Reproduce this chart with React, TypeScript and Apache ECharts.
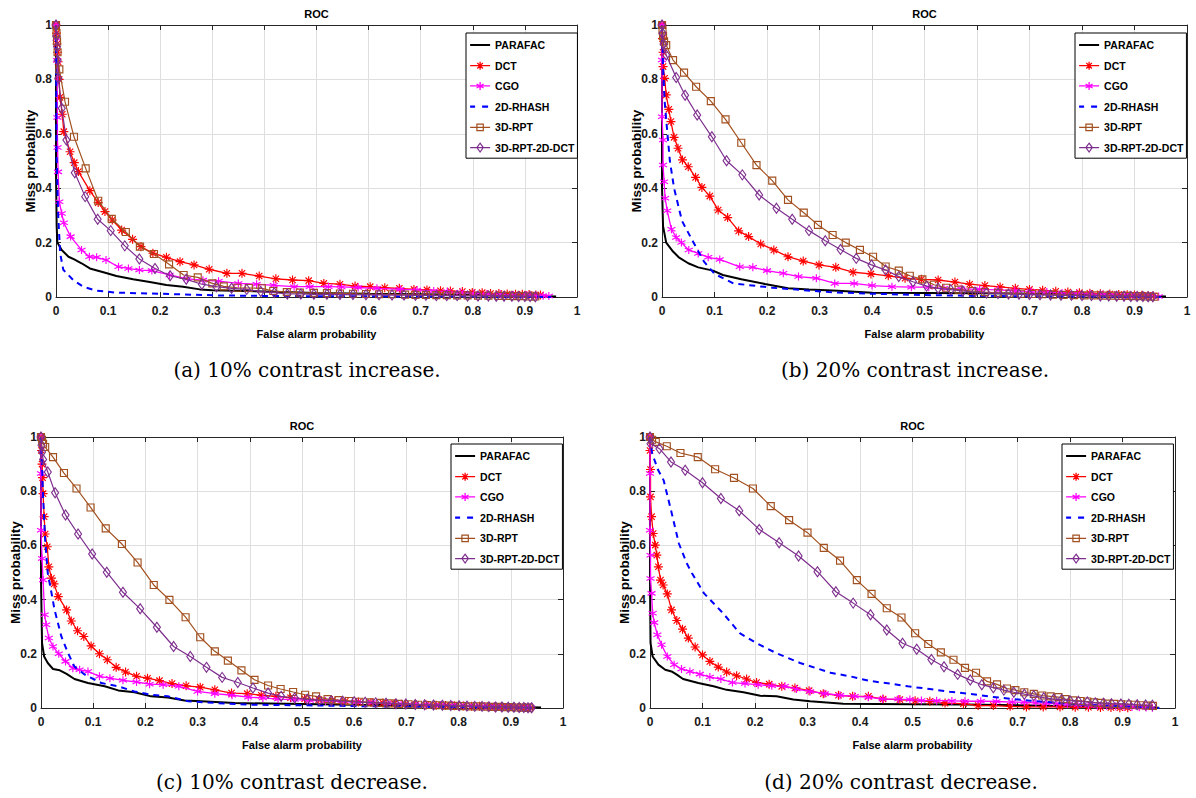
import React, { useEffect, useRef } from "react";
import * as echarts from "echarts";

// ---------- Data (x = false alarm probability, y = miss probability) ----------
const SERIES_NAMES = ["PARAFAC", "DCT", "CGO", "2D-RHASH", "3D-RPT", "3D-RPT-2D-DCT"];
const CAPTIONS = [
  "(a) 10% contrast increase.",
  "(b) 20% contrast increase.",
  "(c) 10% contrast decrease.",
  "(d) 20% contrast decrease.",
];
const PANEL_TITLE = "ROC";
const X_NAME = "False alarm probability";
const Y_NAME = "Miss probability";

// Panel (a) 10% contrast increase
const A_PARAFAC = [[0,1],[0,0.455],[0.0013,0.26],[0.0026,0.2],[0.011,0.173],[0.024,0.148],[0.035,0.138],[0.049,0.124],[0.065,0.105],[0.091,0.091],[0.116,0.077],[0.148,0.065],[0.18,0.055],[0.212,0.044],[0.244,0.038],[0.276,0.028],[0.3,0.025],[0.4,0.02],[0.5,0.015],[0.6,0.012],[0.7,0.01],[0.8,0.008],[0.9,0.005],[0.96,0.002]];
const A_DCT = [[0,1],[0.001,0.97],[0.002,0.93],[0.003,0.9],[0.004,0.865],[0.006,0.8],[0.0077,0.734],[0.012,0.672],[0.015,0.608],[0.027,0.534],[0.035,0.494],[0.043,0.461],[0.065,0.391],[0.081,0.347],[0.094,0.314],[0.108,0.283],[0.126,0.246],[0.147,0.212],[0.163,0.185],[0.186,0.161],[0.212,0.146],[0.238,0.13],[0.265,0.118],[0.294,0.102],[0.328,0.087],[0.357,0.087],[0.39,0.077],[0.422,0.067],[0.454,0.0625],[0.485,0.06],[0.514,0.05],[0.545,0.047],[0.574,0.04],[0.603,0.038],[0.631,0.034],[0.659,0.032],[0.687,0.028],[0.712,0.026],[0.738,0.023],[0.757,0.022],[0.78,0.02],[0.799,0.017],[0.818,0.016],[0.834,0.013],[0.85,0.013],[0.866,0.011],[0.882,0.01],[0.895,0.01],[0.908,0.009],[0.921,0.007],[0.93,0.007]];
const A_CGO = [[0,1],[0.001,0.95],[0.002,0.87],[0.0026,0.66],[0.003,0.55],[0.004,0.46],[0.0064,0.35],[0.011,0.307],[0.015,0.273],[0.028,0.222],[0.049,0.173],[0.064,0.148],[0.078,0.146],[0.096,0.136],[0.12,0.111],[0.139,0.105],[0.16,0.099],[0.184,0.097],[0.218,0.081],[0.252,0.067],[0.282,0.062],[0.312,0.058],[0.35,0.05],[0.385,0.047],[0.418,0.043],[0.457,0.038],[0.487,0.038],[0.523,0.038],[0.548,0.037],[0.58,0.035],[0.616,0.032],[0.661,0.028],[0.693,0.026],[0.725,0.022],[0.751,0.02],[0.776,0.017],[0.802,0.013],[0.827,0.011],[0.853,0.01],[0.878,0.007],[0.904,0.006],[0.923,0.005],[0.935,0.005],[0.946,0.004]];
const A_RHASH = [[0,1],[0.001,0.53],[0.004,0.31],[0.008,0.16],[0.014,0.1],[0.033,0.0625],[0.052,0.038],[0.078,0.023],[0.116,0.016],[0.18,0.013],[0.308,0.006],[0.4,0.004],[0.5,0.003],[0.7,0.002],[0.9,0.001],[0.95,0]];
const A_RPT = [[0,1],[0.001,0.97],[0.002,0.94],[0.003,0.9],[0.0064,0.837],[0.0173,0.718],[0.0345,0.589],[0.057,0.473],[0.081,0.354],[0.107,0.287],[0.134,0.239],[0.161,0.185],[0.188,0.158],[0.217,0.12],[0.245,0.081],[0.272,0.072],[0.3,0.05],[0.322,0.039],[0.348,0.034],[0.37,0.033],[0.395,0.032],[0.417,0.022],[0.443,0.018],[0.468,0.016],[0.495,0.015],[0.52,0.014],[0.545,0.013],[0.57,0.012],[0.595,0.011],[0.62,0.01],[0.645,0.01],[0.67,0.009],[0.69,0.008],[0.71,0.008],[0.73,0.007],[0.75,0.007],[0.77,0.006],[0.79,0.006],[0.81,0.005],[0.83,0.005],[0.85,0.004],[0.865,0.004],[0.88,0.003],[0.895,0.003],[0.91,0.002],[0.92,0.002]];
const A_RPTDCT = [[0,1],[0.001,0.96],[0.002,0.92],[0.003,0.87],[0.0045,0.804],[0.011,0.694],[0.02,0.577],[0.036,0.457],[0.056,0.369],[0.08,0.286],[0.105,0.244],[0.132,0.188],[0.16,0.14],[0.19,0.105],[0.219,0.078],[0.25,0.065],[0.28,0.047],[0.308,0.038],[0.337,0.032],[0.366,0.028],[0.393,0.02],[0.419,0.016],[0.444,0.011],[0.47,0.011],[0.495,0.01],[0.52,0.01],[0.545,0.009],[0.57,0.009],[0.595,0.008],[0.62,0.008],[0.645,0.007],[0.668,0.007],[0.69,0.006],[0.71,0.006],[0.73,0.005],[0.75,0.005],[0.77,0.005],[0.79,0.004],[0.81,0.004],[0.83,0.004],[0.845,0.003],[0.86,0.003],[0.875,0.003],[0.888,0.002],[0.9,0.002],[0.91,0.002],[0.92,0.001]];

// Panel (b) 20% contrast increase
const B_PARAFAC = [[0,1],[0,0.405],[0.002,0.26],[0.008,0.2],[0.021,0.167],[0.032,0.146],[0.05,0.124],[0.069,0.109],[0.097,0.097],[0.116,0.081],[0.151,0.065],[0.196,0.048],[0.24,0.032],[0.28,0.028],[0.335,0.023],[0.4,0.016],[0.5,0.015],[0.6,0.014],[0.7,0.012],[0.8,0.01],[0.9,0.006],[0.96,0.002]];
const B_DCT = [[0,1],[0.001,0.95],[0.002,0.9],[0.002,0.847],[0.005,0.804],[0.008,0.743],[0.013,0.69],[0.017,0.645],[0.023,0.587],[0.0305,0.547],[0.039,0.504],[0.05,0.479],[0.064,0.44],[0.076,0.403],[0.091,0.371],[0.107,0.32],[0.125,0.292],[0.146,0.243],[0.165,0.222],[0.188,0.195],[0.213,0.173],[0.24,0.148],[0.269,0.132],[0.299,0.118],[0.331,0.109],[0.364,0.091],[0.398,0.085],[0.431,0.078],[0.463,0.069],[0.494,0.065],[0.526,0.0625],[0.558,0.055],[0.586,0.047],[0.615,0.042],[0.644,0.037],[0.673,0.032],[0.7,0.028],[0.725,0.025],[0.75,0.021],[0.773,0.018],[0.795,0.016],[0.815,0.014],[0.835,0.012],[0.853,0.011],[0.87,0.009],[0.886,0.008],[0.9,0.007],[0.914,0.006],[0.926,0.005],[0.936,0.004]];
const B_CGO = [[0,1],[0,0.871],[0,0.663],[0.002,0.577],[0.002,0.485],[0.004,0.424],[0.006,0.363],[0.01,0.317],[0.018,0.249],[0.027,0.219],[0.037,0.2],[0.051,0.173],[0.069,0.16],[0.088,0.146],[0.11,0.138],[0.148,0.111],[0.173,0.109],[0.2,0.097],[0.231,0.087],[0.26,0.075],[0.294,0.069],[0.329,0.05],[0.366,0.05],[0.4,0.042],[0.438,0.038],[0.475,0.036],[0.508,0.036],[0.537,0.032],[0.57,0.03],[0.605,0.028],[0.64,0.026],[0.672,0.023],[0.703,0.02],[0.733,0.018],[0.762,0.015],[0.79,0.013],[0.815,0.011],[0.84,0.009],[0.862,0.007],[0.882,0.006],[0.9,0.005],[0.917,0.004],[0.932,0.003],[0.946,0.002]];
const B_RHASH = [[0,1],[0.002,0.85],[0.005,0.72],[0.009,0.63],[0.015,0.5],[0.023,0.4],[0.038,0.28],[0.06,0.2],[0.08,0.13],[0.1,0.085],[0.136,0.05],[0.21,0.034],[0.318,0.018],[0.4,0.012],[0.5,0.007],[0.6,0.004],[0.75,0.002],[0.9,0.001],[0.95,0]];
const B_RPT = [[0,1],[0.001,0.98],[0.002,0.96],[0.004,0.94],[0.008,0.926],[0.021,0.871],[0.042,0.825],[0.065,0.773],[0.093,0.72],[0.121,0.653],[0.151,0.567],[0.18,0.485],[0.21,0.428],[0.24,0.357],[0.27,0.31],[0.297,0.265],[0.325,0.228],[0.35,0.2],[0.377,0.173],[0.402,0.148],[0.426,0.112],[0.451,0.097],[0.472,0.078],[0.496,0.065],[0.518,0.045],[0.541,0.034],[0.565,0.027],[0.59,0.022],[0.615,0.018],[0.64,0.015],[0.662,0.013],[0.684,0.012],[0.705,0.011],[0.725,0.01],[0.745,0.009],[0.765,0.008],[0.785,0.007],[0.805,0.006],[0.823,0.006],[0.84,0.005],[0.856,0.005],[0.871,0.004],[0.885,0.004],[0.898,0.003],[0.91,0.003],[0.921,0.002],[0.93,0.002],[0.938,0.001]];
const B_RPTDCT = [[0,1],[0.001,0.97],[0.003,0.93],[0.008,0.89],[0.027,0.807],[0.044,0.742],[0.067,0.669],[0.095,0.589],[0.123,0.501],[0.153,0.449],[0.185,0.375],[0.218,0.326],[0.248,0.286],[0.28,0.244],[0.311,0.207],[0.34,0.175],[0.37,0.142],[0.399,0.118],[0.426,0.099],[0.451,0.075],[0.478,0.056],[0.504,0.04],[0.526,0.032],[0.55,0.027],[0.573,0.022],[0.596,0.018],[0.618,0.015],[0.64,0.013],[0.66,0.011],[0.68,0.01],[0.7,0.009],[0.72,0.008],[0.74,0.007],[0.76,0.006],[0.78,0.006],[0.8,0.005],[0.818,0.005],[0.835,0.004],[0.851,0.004],[0.866,0.003],[0.88,0.003],[0.893,0.002],[0.905,0.002],[0.916,0.002],[0.926,0.001],[0.935,0.001]];

// Panel (c) 10% contrast decrease
const C_PARAFAC = [[0,1],[0,0.472],[0.002,0.239],[0.006,0.19],[0.013,0.166],[0.023,0.144],[0.036,0.139],[0.049,0.126],[0.064,0.107],[0.09,0.092],[0.122,0.08],[0.148,0.065],[0.179,0.058],[0.211,0.043],[0.243,0.039],[0.275,0.028],[0.307,0.025],[0.371,0.018],[0.5,0.015],[0.6,0.012],[0.7,0.01],[0.8,0.008],[0.9,0.005],[0.958,0.002]];
const C_DCT = [[0,1],[0.001,0.95],[0.002,0.9],[0.003,0.85],[0.004,0.791],[0.006,0.706],[0.008,0.642],[0.012,0.595],[0.015,0.521],[0.02,0.479],[0.025,0.458],[0.033,0.411],[0.049,0.362],[0.058,0.321],[0.07,0.285],[0.082,0.264],[0.096,0.229],[0.112,0.2],[0.127,0.178],[0.144,0.15],[0.162,0.133],[0.183,0.117],[0.204,0.11],[0.227,0.101],[0.251,0.09],[0.278,0.082],[0.305,0.077],[0.333,0.067],[0.365,0.055],[0.395,0.053],[0.422,0.047],[0.45,0.043],[0.478,0.038],[0.505,0.034],[0.532,0.031],[0.558,0.028],[0.583,0.025],[0.608,0.022],[0.632,0.02],[0.655,0.018],[0.677,0.016],[0.698,0.014],[0.718,0.013],[0.738,0.011],[0.757,0.01],[0.775,0.009],[0.792,0.008],[0.809,0.007],[0.825,0.006],[0.84,0.006],[0.855,0.005],[0.869,0.004],[0.882,0.004],[0.895,0.003],[0.907,0.003],[0.918,0.002],[0.928,0.002],[0.937,0.001]];
const C_CGO = [[0,1],[0,0.865],[0,0.656],[0.002,0.552],[0.004,0.472],[0.007,0.344],[0.01,0.307],[0.015,0.258],[0.023,0.227],[0.034,0.2],[0.047,0.172],[0.061,0.147],[0.074,0.141],[0.09,0.135],[0.112,0.117],[0.132,0.11],[0.157,0.102],[0.183,0.096],[0.208,0.088],[0.234,0.086],[0.264,0.08],[0.3,0.061],[0.333,0.053],[0.366,0.047],[0.397,0.04],[0.425,0.037],[0.454,0.033],[0.486,0.031],[0.515,0.028],[0.545,0.026],[0.575,0.024],[0.605,0.022],[0.635,0.02],[0.663,0.018],[0.69,0.016],[0.716,0.014],[0.741,0.012],[0.765,0.011],[0.788,0.01],[0.81,0.009],[0.83,0.008],[0.85,0.007],[0.868,0.006],[0.885,0.005],[0.9,0.004],[0.914,0.003],[0.927,0.003],[0.938,0.002]];
const C_RHASH = [[0,1],[0.004,0.78],[0.008,0.62],[0.013,0.497],[0.019,0.436],[0.026,0.362],[0.039,0.264],[0.052,0.202],[0.064,0.153],[0.084,0.123],[0.116,0.092],[0.148,0.08],[0.179,0.061],[0.211,0.049],[0.243,0.043],[0.282,0.025],[0.339,0.018],[0.403,0.012],[0.5,0.01],[0.6,0.007],[0.75,0.004],[0.9,0.002],[0.95,0]];
const C_RPT = [[0,1],[0.002,0.99],[0.004,0.975],[0.008,0.963],[0.023,0.926],[0.044,0.867],[0.068,0.81],[0.095,0.74],[0.124,0.663],[0.155,0.605],[0.185,0.537],[0.216,0.454],[0.246,0.399],[0.277,0.335],[0.305,0.261],[0.333,0.209],[0.358,0.175],[0.384,0.139],[0.409,0.104],[0.435,0.083],[0.459,0.07],[0.483,0.059],[0.506,0.049],[0.527,0.043],[0.549,0.033],[0.57,0.029],[0.59,0.026],[0.61,0.023],[0.63,0.021],[0.65,0.019],[0.668,0.017],[0.686,0.015],[0.704,0.014],[0.722,0.012],[0.74,0.011],[0.757,0.01],[0.774,0.009],[0.79,0.008],[0.806,0.007],[0.822,0.006],[0.837,0.006],[0.851,0.005],[0.865,0.004],[0.878,0.004],[0.89,0.003],[0.901,0.003],[0.911,0.002],[0.92,0.002],[0.928,0.001],[0.935,0.001]];
const C_RPTDCT = [[0,1],[0.001,0.97],[0.002,0.945],[0.004,0.917],[0.013,0.871],[0.027,0.794],[0.047,0.712],[0.071,0.642],[0.098,0.568],[0.126,0.501],[0.157,0.427],[0.19,0.366],[0.222,0.298],[0.254,0.227],[0.286,0.19],[0.317,0.15],[0.347,0.113],[0.377,0.094],[0.406,0.074],[0.435,0.055],[0.46,0.043],[0.486,0.037],[0.51,0.032],[0.533,0.029],[0.556,0.027],[0.578,0.025],[0.6,0.023],[0.621,0.021],[0.641,0.019],[0.661,0.018],[0.68,0.016],[0.699,0.015],[0.717,0.013],[0.735,0.012],[0.752,0.011],[0.769,0.01],[0.785,0.009],[0.801,0.008],[0.816,0.007],[0.831,0.006],[0.845,0.006],[0.858,0.005],[0.871,0.004],[0.883,0.004],[0.895,0.003],[0.906,0.003],[0.916,0.002],[0.925,0.002],[0.933,0.001],[0.94,0.001]];

// Panel (d) 20% contrast decrease
const D_PARAFAC = [[0,1],[0,0.472],[0.001,0.24],[0.005,0.19],[0.016,0.16],[0.029,0.141],[0.041,0.135],[0.051,0.123],[0.063,0.107],[0.092,0.092],[0.121,0.08],[0.146,0.067],[0.178,0.058],[0.21,0.045],[0.241,0.043],[0.273,0.031],[0.305,0.025],[0.368,0.016],[0.432,0.015],[0.5,0.014],[0.6,0.013],[0.7,0.01],[0.8,0.006],[0.9,0.003],[0.97,0.001]];
const D_DCT = [[0,1],[0,0.95],[0.001,0.88],[0.001,0.779],[0.003,0.706],[0.006,0.644],[0.01,0.601],[0.013,0.564],[0.016,0.521],[0.02,0.472],[0.025,0.454],[0.033,0.421],[0.041,0.362],[0.051,0.323],[0.062,0.291],[0.073,0.258],[0.086,0.225],[0.1,0.196],[0.114,0.172],[0.13,0.151],[0.146,0.133],[0.165,0.119],[0.184,0.107],[0.203,0.094],[0.227,0.088],[0.251,0.08],[0.276,0.074],[0.303,0.064],[0.33,0.053],[0.359,0.047],[0.386,0.043],[0.416,0.043],[0.444,0.033],[0.476,0.031],[0.505,0.027],[0.533,0.025],[0.562,0.018],[0.597,0.016],[0.625,0.009],[0.654,0.009],[0.686,0.006],[0.717,0.004],[0.749,0.004],[0.781,0.004],[0.81,0.003],[0.835,0.003],[0.858,0.002],[0.878,0.002],[0.895,0.001],[0.91,0.001]];
const D_CGO = [[0,1],[0,0.865],[0,0.656],[0.001,0.564],[0.001,0.478],[0.003,0.423],[0.005,0.35],[0.008,0.315],[0.014,0.27],[0.022,0.233],[0.033,0.19],[0.046,0.16],[0.06,0.144],[0.076,0.135],[0.095,0.125],[0.114,0.114],[0.135,0.107],[0.157,0.094],[0.181,0.09],[0.206,0.086],[0.232,0.082],[0.257,0.08],[0.279,0.07],[0.305,0.061],[0.333,0.053],[0.362,0.047],[0.39,0.043],[0.416,0.04],[0.443,0.033],[0.473,0.033],[0.495,0.031],[0.517,0.028],[0.546,0.027],[0.575,0.026],[0.6,0.025],[0.63,0.025],[0.66,0.024],[0.69,0.022],[0.713,0.021],[0.735,0.019],[0.755,0.018],[0.775,0.016],[0.795,0.014],[0.815,0.012],[0.835,0.01],[0.852,0.008],[0.87,0.007],[0.887,0.006],[0.903,0.005],[0.918,0.004],[0.932,0.003],[0.945,0.002],[0.957,0.001]];
const D_RHASH = [[0,1],[0.004,0.94],[0.015,0.88],[0.026,0.84],[0.04,0.73],[0.055,0.607],[0.07,0.534],[0.08,0.497],[0.103,0.423],[0.139,0.35],[0.171,0.276],[0.203,0.239],[0.241,0.202],[0.286,0.166],[0.344,0.13],[0.381,0.117],[0.418,0.1],[0.457,0.09],[0.491,0.08],[0.533,0.07],[0.571,0.06],[0.61,0.052],[0.648,0.042],[0.686,0.034],[0.724,0.027],[0.762,0.021],[0.8,0.015],[0.85,0.01],[0.9,0.006],[0.97,0]];
const D_RPT = [[0,1],[0.004,0.99],[0.011,0.982],[0.032,0.966],[0.058,0.941],[0.091,0.926],[0.124,0.881],[0.16,0.849],[0.196,0.81],[0.23,0.745],[0.265,0.693],[0.3,0.647],[0.331,0.591],[0.362,0.544],[0.394,0.472],[0.422,0.421],[0.451,0.368],[0.479,0.334],[0.505,0.276],[0.53,0.236],[0.554,0.205],[0.578,0.178],[0.6,0.148],[0.621,0.13],[0.642,0.098],[0.661,0.087],[0.68,0.072],[0.696,0.066],[0.713,0.058],[0.731,0.052],[0.747,0.046],[0.763,0.043],[0.778,0.04],[0.791,0.033],[0.806,0.028],[0.82,0.026],[0.833,0.024],[0.846,0.021],[0.859,0.019],[0.871,0.016],[0.884,0.015],[0.897,0.014],[0.91,0.013],[0.922,0.012],[0.935,0.01],[0.948,0.009],[0.958,0.008]];
const D_RPTDCT = [[0,1],[0.001,0.975],[0.018,0.957],[0.04,0.908],[0.067,0.877],[0.1,0.831],[0.135,0.773],[0.17,0.728],[0.208,0.659],[0.246,0.61],[0.283,0.561],[0.319,0.503],[0.354,0.429],[0.387,0.387],[0.42,0.344],[0.451,0.288],[0.481,0.239],[0.508,0.217],[0.536,0.179],[0.56,0.152],[0.586,0.124],[0.61,0.103],[0.632,0.086],[0.654,0.075],[0.674,0.066],[0.693,0.058],[0.713,0.051],[0.731,0.045],[0.75,0.038],[0.769,0.033],[0.784,0.031],[0.8,0.027],[0.816,0.025],[0.833,0.022],[0.848,0.019],[0.864,0.018],[0.879,0.016],[0.897,0.015],[0.912,0.014],[0.928,0.012],[0.944,0.011],[0.957,0.01]];

const PANEL_DATA = [
  [A_PARAFAC, A_DCT, A_CGO, A_RHASH, A_RPT, A_RPTDCT],
  [B_PARAFAC, B_DCT, B_CGO, B_RHASH, B_RPT, B_RPTDCT],
  [C_PARAFAC, C_DCT, C_CGO, C_RHASH, C_RPT, C_RPTDCT],
  [D_PARAFAC, D_DCT, D_CGO, D_RHASH, D_RPT, D_RPTDCT],
];

// ---------- Layout / style ----------
const LAYOUT = [
  { left: 56, top: 25, width: 521, height: 272, legendLeft: 466, legendTop: 33, capX: 307, capY: 370 },
  { left: 662, top: 25, width: 525, height: 272, legendLeft: 1075, legendTop: 33, capX: 915, capY: 370 },
  { left: 41, top: 437, width: 522, height: 271, legendLeft: 451, legendTop: 444, capX: 292, capY: 782 },
  { left: 650, top: 437, width: 525, height: 271, legendLeft: 1062, legendTop: 444, capX: 901, capY: 782 },
];

const SANS = "'Liberation Sans', Arial, sans-serif";
const AX = "#262626";

const STAR8 = "path://M5,0L5,10M0,5L10,5M1.5,1.5L8.5,8.5M1.5,8.5L8.5,1.5";
const STAR6 = "path://M5,0L5,10M0.7,2.5L9.3,7.5M0.7,7.5L9.3,2.5";

// Legend icons drawn in a 20 x 10 box (corner anchors keep the box fixed)
const BOX = "M0,0L0,0M20,10L20,10";
const LEGEND_ICONS = [
  "path://" + BOX + "M0,5L20,5",
  "path://" + BOX + "M0,5L20,5M10,1L10,9M6,5L14,5M7.2,2.2L12.8,7.8M7.2,7.8L12.8,2.2",
  "path://" + BOX + "M0,5L20,5M10,1L10,9M6.5,3L13.5,7M6.5,7L13.5,3",
  "path://" + BOX + "M0,5L5,5M12,5L18,5",
  "path://" + BOX + "M0,5L20,5M6.8,1.8L13.2,1.8L13.2,8.2L6.8,8.2Z",
  "path://" + BOX + "M0,5L20,5M10,0.6L13.2,5L10,9.4L6.8,5Z",
];

const STYLES: any[] = [
  { color: "#000000", width: 2, symbol: "none", symbolSize: 0, legendWidth: 2 },
  { color: "#FF0000", width: 1.3, symbol: STAR8, symbolSize: 9, stroke: true, legendWidth: 1.3 },
  { color: "#FF00FF", width: 1.3, symbol: STAR6, symbolSize: 8, stroke: true, legendWidth: 1.3 },
  { color: "#0000FF", width: 2, symbol: "none", symbolSize: 0, dash: [6, 5], legendWidth: 2.2 },
  { color: "#A2501F", width: 1.2, symbol: "rect", symbolSize: 7, stroke: true, legendWidth: 1.2 },
  { color: "#7E2F8E", width: 1.2, symbol: "diamond", symbolSize: [7, 10], stroke: true, legendWidth: 1.2 },
];

export default function App() {
  const ref = useRef<HTMLDivElement>(null);

  useEffect(() => {
    document.body.style.margin = "0";
    document.body.style.background = "#ffffff";
    if (!ref.current) return;
    const chart = echarts.init(ref.current, null, { renderer: "svg" });

    const grid: any[] = [];
    const xAxis: any[] = [];
    const yAxis: any[] = [];
    const series: any[] = [];
    const legend: any[] = [];
    const title: any[] = [];
    const graphic: any[] = [];

    const legendData = SERIES_NAMES.map((name, s) => ({
      name,
      icon: LEGEND_ICONS[s],
      itemStyle: {
        color: "rgba(255,255,255,0)",
        borderColor: STYLES[s].color,
        borderWidth: STYLES[s].legendWidth,
        borderType: "solid",
      },
    }));

    LAYOUT.forEach((L, p) => {
      grid.push({ left: L.left, top: L.top, width: L.width, height: L.height, containLabel: false });
      const tickLabel = { fontFamily: SANS, fontWeight: "bold", fontSize: 12, color: "#1a1a1a" };
      xAxis.push({
        type: "value", gridIndex: p, min: 0, max: 1, interval: 0.1, position: "bottom",
        name: X_NAME, nameLocation: "middle", nameGap: 31, nameMoveOverlap: false,
        nameTextStyle: { fontFamily: SANS, fontWeight: "bold", fontSize: 11, color: "#000" },
        axisLine: { show: true, onZero: false, lineStyle: { color: AX, width: 1 } },
        axisTick: { show: true, inside: true, length: 5, lineStyle: { color: AX } },
        axisLabel: { ...tickLabel, margin: 8 },
        splitLine: { show: true, lineStyle: { color: "#dedede", width: 1 } },
      });
      xAxis.push({
        type: "value", gridIndex: p, min: 0, max: 1, interval: 0.1, position: "top",
        axisLine: { show: true, onZero: false, lineStyle: { color: AX, width: 1 } },
        axisTick: { show: true, inside: true, length: 5, lineStyle: { color: AX } },
        axisLabel: { show: false }, splitLine: { show: false },
      });
      yAxis.push({
        type: "value", gridIndex: p, min: 0, max: 1, interval: 0.2, position: "left",
        name: Y_NAME, nameLocation: "middle", nameGap: 19, nameMoveOverlap: false,
        nameTextStyle: { fontFamily: SANS, fontWeight: "bold", fontSize: 13.5, color: "#000" },
        axisLine: { show: true, onZero: false, lineStyle: { color: AX, width: 1 } },
        axisTick: { show: true, inside: true, length: 5, lineStyle: { color: AX } },
        axisLabel: { ...tickLabel, margin: 4 },
        splitLine: { show: true, lineStyle: { color: "#dedede", width: 1 } },
      });
      yAxis.push({
        type: "value", gridIndex: p, min: 0, max: 1, interval: 0.2, position: "right",
        axisLine: { show: true, onZero: false, lineStyle: { color: AX, width: 1 } },
        axisTick: { show: true, inside: true, length: 5, lineStyle: { color: AX } },
        axisLabel: { show: false }, splitLine: { show: false },
      });

      PANEL_DATA[p].forEach((data, s) => {
        const st = STYLES[s];
        series.push({
          type: "line",
          name: SERIES_NAMES[s],
          xAxisIndex: p * 2,
          yAxisIndex: p * 2,
          data,
          z: 2 + s,
          symbol: st.symbol,
          symbolSize: st.symbolSize,
          showSymbol: st.symbol !== "none",
          clip: true,
          silent: true,
          lineStyle: { color: st.color, width: st.width, type: st.dash ? st.dash : "solid" },
          itemStyle: st.stroke
            ? { color: "rgba(255,255,255,0)", borderColor: st.color, borderWidth: 1.15 }
            : { color: st.color },
          emphasis: { disabled: true },
        });
      });

      legend.push({
        left: L.legendLeft, top: L.legendTop, orient: "vertical",
        data: legendData, selectedMode: false,
        backgroundColor: "#ffffff", borderColor: "#000000", borderWidth: 1,
        padding: [6, 3, 5, 3], itemGap: 9, itemWidth: 20, itemHeight: 10, itemTextGap: 1,
        textStyle: { fontFamily: SANS, fontWeight: "bold", fontSize: 10.5, color: "#000" },
      });

      title.push({
        text: PANEL_TITLE,
        left: L.left + L.width / 2, top: L.top - 17, textAlign: "center", padding: 0,
        textStyle: { fontFamily: SANS, fontWeight: "bold", fontSize: 11, color: "#000" },
      });

      graphic.push({
        type: "text", x: L.capX, y: L.capY,
        style: {
          text: CAPTIONS[p], x: 0, y: 0,
          textAlign: "center", textVerticalAlign: "middle", align: "center", verticalAlign: "middle",
          fontFamily: "'DejaVu Serif', serif", fontSize: 20, fill: "#000",
        },
      });
    });

    chart.setOption({
      animation: false,
      backgroundColor: "#ffffff",
      title, grid, xAxis, yAxis, series, legend, graphic,
    });

    return () => chart.dispose();
  }, []);

  return <div ref={ref} style={{ width: 1196, height: 798 }} />;
}
